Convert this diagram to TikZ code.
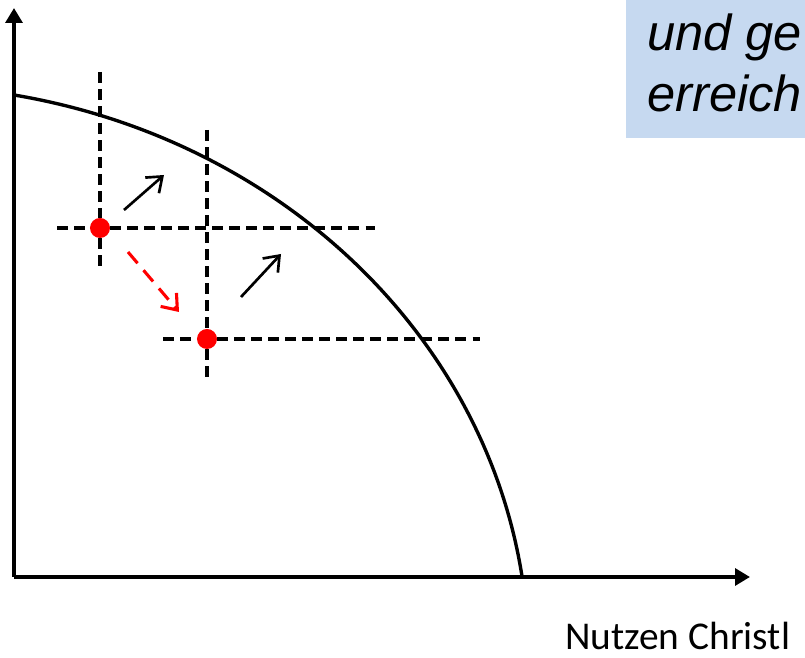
\documentclass[tikz,border=0pt]{standalone}
\usepackage{fontspec}
\usepackage{xcolor}
\usetikzlibrary{positioning,arrows.meta}
\newfontfamily\boxfont{Liberation Sans}
\newfontfamily\labelfont{Carlito}
\definecolor{boxblue}{RGB}{198,217,240}

\begin{document}
\begin{tikzpicture}[
  x=0.025cm, y=0.025cm,
  achse/.style={line width=2.7pt, -{Triangle[length=3.75mm, width=4.2mm]}},
  kurve/.style={line width=2.4pt},
  hilfslinie/.style={line width=2.3pt, dash pattern=on 7.8pt off 4.3pt},
  punkt/.style={circle, fill=red, inner sep=0pt, minimum size=0.5cm},
  pfeil/.style={line width=1.9pt, -{Straight Barb[length=3.4mm, width=5.2mm]}},
  verschiebung/.style={pfeil, line width=2.2pt, red, dash pattern=on 10.5pt off 6.5pt}
]
  \useasboundingbox (0,0) rectangle (805,658);
  \clip (0,0) rectangle (805,658);

  % Textfeld oben rechts
  \fill[boxblue] (626,520) rectangle (805,668);
  \node[anchor=base west, align=left, inner sep=0pt,
        font=\boxfont\itshape\fontsize{36pt}{44pt}\selectfont] (ziel)
    at (647,546) {und ge\\erreich};

  % Achsen
  \coordinate (ursprung) at (14,81);
  \coordinate (yspitze) at (14,650);
  \coordinate (xspitze) at (750,81);
  \draw[achse] (ursprung) -- (yspitze);
  \draw[achse] (ursprung) -- (xspitze);

  \node[anchor=base west, inner sep=0pt,
        font=\labelfont\fontsize{28pt}{33pt}\selectfont] (xlabel)
    at (565,8) {Nutzen Christl};

  % Grenzkurve (Ellipsenbogen)
  \draw[kurve] (14,563) arc[start angle=79.55, end angle=8.13,
    x radius=15.7075cm, y radius=14.3125cm];

  % Ausgangspunkt und neuer Punkt
  \node[punkt] (alt) at (100,430) {};
  \node[punkt] (neu) at (207,319) {};

  \draw[hilfslinie] (100,586) -- (alt) -- (100,386);
  \draw[hilfslinie] (57,430) -- (alt) -- (375,430);
  \draw[hilfslinie] (207,528) -- (neu) -- (207,280);
  \draw[hilfslinie] (163,319) -- (neu) -- (480,319);

  \coordinate (a1) at (124,448);
  \coordinate (b1) at (164,483);
  \coordinate (a2) at (241,361);
  \coordinate (b2) at (281,404);
  \coordinate (r1) at (128,406);
  \coordinate (r2) at (179,346);
  \draw[pfeil] (a1) -- (b1);
  \draw[pfeil] (a2) -- (b2);
  \draw[verschiebung] (r1) -- (r2);
\end{tikzpicture}
\end{document}
